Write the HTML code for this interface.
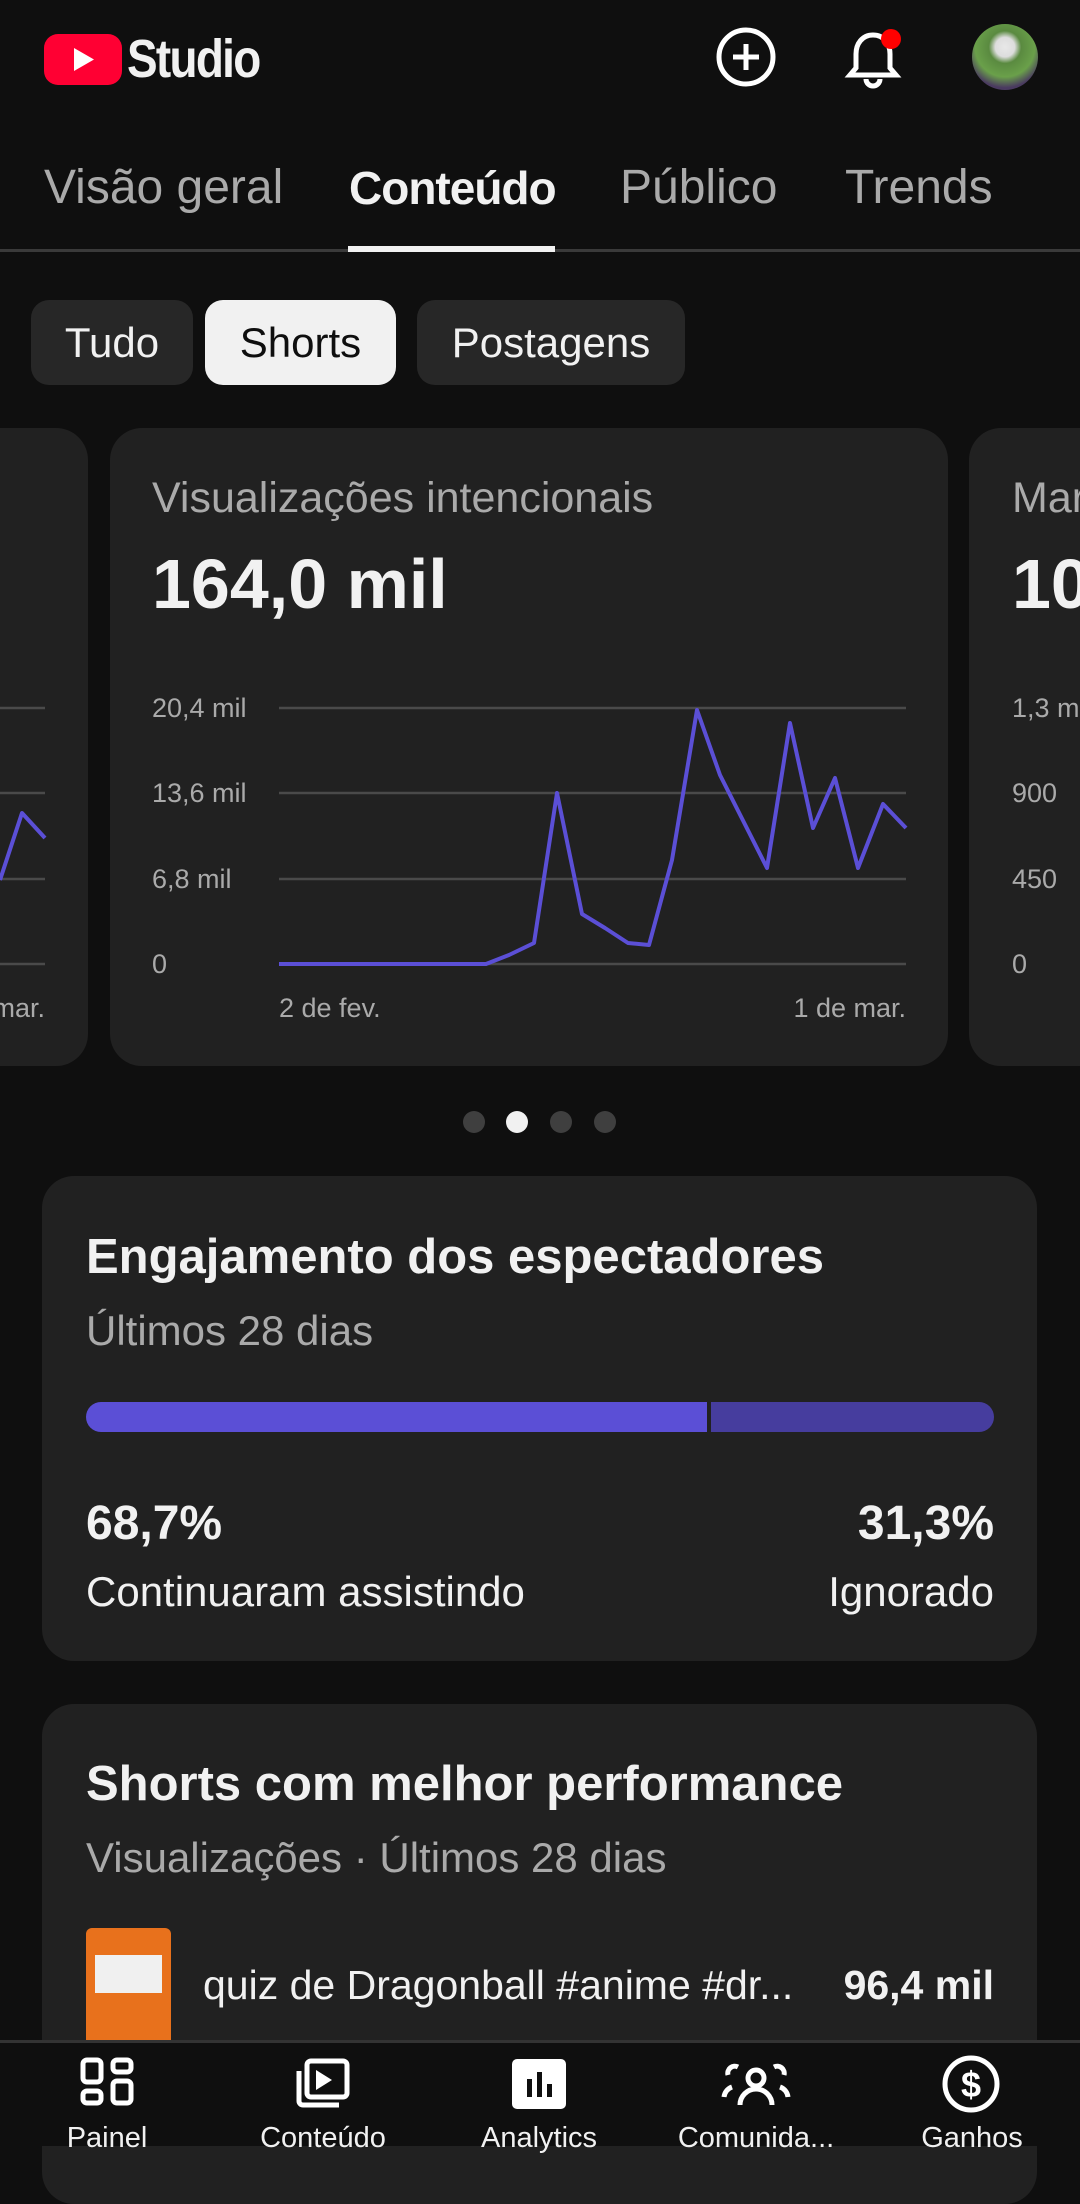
<!DOCTYPE html>
<html><head><meta charset="utf-8"><style>
*{margin:0;padding:0;box-sizing:border-box}
body{width:1080px;height:2146px;background:#0f0f0f;font-family:"Liberation Sans",sans-serif;color:#f1f1f1;position:relative;overflow:hidden}
.a{position:absolute;white-space:nowrap}
.card{position:absolute;background:#212121;border-radius:32px}
.gray{color:#aaaaaa}
</style></head><body>
<!-- header -->
<div class="a" style="left:44px;top:34px;width:78px;height:51px;background:#ff0033;border-radius:14px"></div>
<svg class="a" style="left:44px;top:34px" width="78" height="51"><polygon points="30,14 30,37 50,25.5" fill="#fff"/></svg>
<div class="a" style="left:127px;top:28px;font-size:54px;line-height:62px;font-weight:bold;letter-spacing:-2px;transform:scaleX(0.85);transform-origin:left">Studio</div>
<svg class="a" style="left:716px;top:27px" width="60" height="60"><circle cx="30" cy="30" r="27" fill="none" stroke="#fff" stroke-width="5"/><path d="M30 17v26M17 30h26" stroke="#fff" stroke-width="5"/></svg>
<svg class="a" style="left:843px;top:25px" width="60" height="66"><path d="M30 10c-11 0-17 9-17 19v14l-6 7h46l-6-7V29c0-10-6-19-17-19z" fill="none" stroke="#fff" stroke-width="5"/><path d="M23 54a7 7 0 0 0 14 0" fill="none" stroke="#fff" stroke-width="5"/><circle cx="48" cy="14" r="10" fill="#f00"/></svg>
<div class="a" style="left:972px;top:24px;width:66px;height:66px;border-radius:50%;background:radial-gradient(circle at 50% 35%,#e8e8e8 0,#ddd 18%,#5a8a40 30%,#6aa04a 55%,#4a3a60 75%)"></div>
<!-- tabs -->
<div class="a gray" style="left:44px;top:160px;font-size:48px;line-height:56px">Visão geral</div>
<div class="a" style="left:349px;top:160px;font-size:46px;line-height:56px;font-weight:bold;letter-spacing:-1px">Conteúdo</div>
<div class="a gray" style="left:620px;top:160px;font-size:48px;line-height:56px">Público</div>
<div class="a gray" style="left:845px;top:160px;font-size:48px;line-height:56px">Trends</div>
<div class="a" style="left:0;top:249px;width:1080px;height:3px;background:#3a3a3a"></div>
<div class="a" style="left:348px;top:246px;width:207px;height:6px;background:#f1f1f1"></div>
<!-- chips -->
<div class="a" style="left:31px;top:300px;width:162px;height:85px;border-radius:18px;background:#272727;font-size:42px;line-height:85px;text-align:center">Tudo</div>
<div class="a" style="left:205px;top:300px;width:191px;height:85px;border-radius:18px;background:#f1f1f1;color:#0f0f0f;font-size:42px;line-height:85px;text-align:center">Shorts</div>
<div class="a" style="left:417px;top:300px;width:268px;height:85px;border-radius:18px;background:#272727;font-size:42px;line-height:85px;text-align:center">Postagens</div>
<!-- cards carousel -->
<div class="card" style="left:-60px;top:428px;width:148px;height:638px"></div>
<div class="card" style="left:110px;top:428px;width:838px;height:638px"></div>
<div class="card" style="left:969px;top:428px;width:200px;height:638px"></div>
<svg class="a" style="left:0;top:0" width="1080" height="1100">
<g stroke="#4a4a4a" stroke-width="2.5">
<line x1="0" y1="708" x2="45" y2="708"/><line x1="0" y1="793" x2="45" y2="793"/><line x1="0" y1="879" x2="45" y2="879"/><line x1="0" y1="964" x2="45" y2="964"/>
<line x1="279" y1="708" x2="906" y2="708"/><line x1="279" y1="793" x2="906" y2="793"/><line x1="279" y1="879" x2="906" y2="879"/><line x1="279" y1="964" x2="906" y2="964"/>
</g>
<polyline fill="none" stroke="#5b4fd6" stroke-width="4" stroke-linejoin="round" points="0,880 22,813 45,838"/>
<polyline fill="none" stroke="#5b4fd6" stroke-width="4" stroke-linejoin="round" points="279,964 486,964 509,955 534,943 557,793 582,914 605,928 628,943 649,945 672,860 697,710 720,775 767,868 790,723 813,828 835,778 858,868 883,804 906,828"/>
<g fill="#aaaaaa" font-family="Liberation Sans,sans-serif" font-size="27">
<text x="152" y="717">20,4 mil</text><text x="152" y="802">13,6 mil</text><text x="152" y="888">6,8 mil</text><text x="152" y="973">0</text>
<text x="279" y="1017">2 de fev.</text><text x="906" y="1017" text-anchor="end">1 de mar.</text>
<text x="45" y="1017" text-anchor="end">mar.</text>
<text x="1012" y="717">1,3 mil</text><text x="1012" y="802">900</text><text x="1012" y="888">450</text><text x="1012" y="973">0</text>
</g>
</svg>
<div class="a gray" style="left:152px;top:474px;font-size:43px;line-height:48px">Visualizações intencionais</div>
<div class="a" style="left:152px;top:544px;font-size:70px;line-height:80px;font-weight:bold">164,0 mil</div>
<div class="a gray" style="left:1012px;top:474px;font-size:43px;line-height:48px">Mar</div>
<div class="a" style="left:1012px;top:544px;font-size:70px;line-height:80px;font-weight:bold">10</div>
<!-- dots -->
<div class="a" style="left:463px;top:1111px;width:22px;height:22px;border-radius:50%;background:#3f3f3f"></div>
<div class="a" style="left:506px;top:1111px;width:22px;height:22px;border-radius:50%;background:#f1f1f1"></div>
<div class="a" style="left:550px;top:1111px;width:22px;height:22px;border-radius:50%;background:#3f3f3f"></div>
<div class="a" style="left:594px;top:1111px;width:22px;height:22px;border-radius:50%;background:#3f3f3f"></div>
<!-- engagement -->
<div class="card" style="left:42px;top:1176px;width:995px;height:485px"></div>
<div class="a" style="left:86px;top:1228px;font-size:49px;line-height:58px;font-weight:bold">Engajamento dos espectadores</div>
<div class="a gray" style="left:86px;top:1306px;font-size:42px;line-height:50px">Últimos 28 dias</div>
<div class="a" style="left:86px;top:1402px;width:621px;height:30px;border-radius:15px 0 0 15px;background:#5b4fd6"></div>
<div class="a" style="left:711px;top:1402px;width:283px;height:30px;border-radius:0 15px 15px 0;background:#463d9e"></div>
<div class="a" style="left:86px;top:1496px;font-size:48px;line-height:56px;font-weight:bold">68,7%</div>
<div class="a" style="right:86px;top:1496px;font-size:48px;line-height:56px;font-weight:bold">31,3%</div>
<div class="a" style="left:86px;top:1567px;font-size:42px;line-height:50px">Continuaram assistindo</div>
<div class="a" style="right:86px;top:1567px;font-size:42px;line-height:50px">Ignorado</div>
<!-- shorts -->
<div class="card" style="left:42px;top:1704px;width:995px;height:500px"></div>
<div class="a" style="left:86px;top:1755px;font-size:49px;line-height:58px;font-weight:bold">Shorts com melhor performance</div>
<div class="a gray" style="left:86px;top:1833px;font-size:42px;line-height:50px">Visualizações · Últimos 28 dias</div>
<div class="a" style="left:86px;top:1928px;width:85px;height:120px;border-radius:6px;background:#e8711c"></div>
<div class="a" style="left:95px;top:1955px;width:67px;height:38px;background:#f0f0f0"></div>
<div class="a" style="left:203px;top:1960px;font-size:41px;line-height:50px">quiz de Dragonball #anime #dr...</div>
<div class="a" style="right:86px;top:1960px;font-size:41px;line-height:50px;font-weight:bold">96,4 mil</div>
<!-- bottom nav -->
<div class="a" style="left:0;top:2040px;width:1080px;height:106px;background:#0f0f0f;border-top:3px solid #333"></div>
<svg class="a" style="left:0;top:2055px" width="1080" height="60">
<g fill="none" stroke="#fff" stroke-width="5">
<rect x="83" y="5" width="18" height="22" rx="4"/><rect x="113" y="5" width="18" height="12" rx="4"/><rect x="83" y="36" width="18" height="12" rx="4"/><rect x="113" y="26" width="18" height="22" rx="4"/>
<rect x="307" y="6" width="40" height="36" rx="4"/><path d="M299 16v30a4 4 0 0 0 4 4h36"/>
<circle cx="971" cy="29" r="26"/>
<circle cx="756" cy="23" r="8"/><path d="M740 50a16 16 0 0 1 32 0M728 20a7 7 0 0 1 10-8M784 20a7 7 0 0 0-10-8M724 42a12 12 0 0 1 8-10M788 42a12 12 0 0 0-8-10"/>
</g>
<path d="M316 15v20l16-10z" fill="#fff"/>
<rect x="512" y="4" width="54" height="50" rx="5" fill="#fff"/>
<g fill="#0f0f0f"><rect x="527" y="24" width="5" height="18"/><rect x="537" y="17" width="5" height="25"/><rect x="547" y="29" width="5" height="13"/></g>
<text x="971" y="42" text-anchor="middle" fill="#fff" font-size="36" font-weight="bold" font-family="Liberation Sans,sans-serif">$</text>
</svg>
<div class="a" style="left:0;top:2120px;width:1080px;font-size:29px;line-height:36px">
<span class="a" style="left:107px;transform:translateX(-50%)">Painel</span>
<span class="a" style="left:323px;transform:translateX(-50%)">Conteúdo</span>
<span class="a" style="left:539px;transform:translateX(-50%)">Analytics</span>
<span class="a" style="left:756px;transform:translateX(-50%)">Comunida...</span>
<span class="a" style="left:972px;transform:translateX(-50%)">Ganhos</span>
</div>
</body></html>
